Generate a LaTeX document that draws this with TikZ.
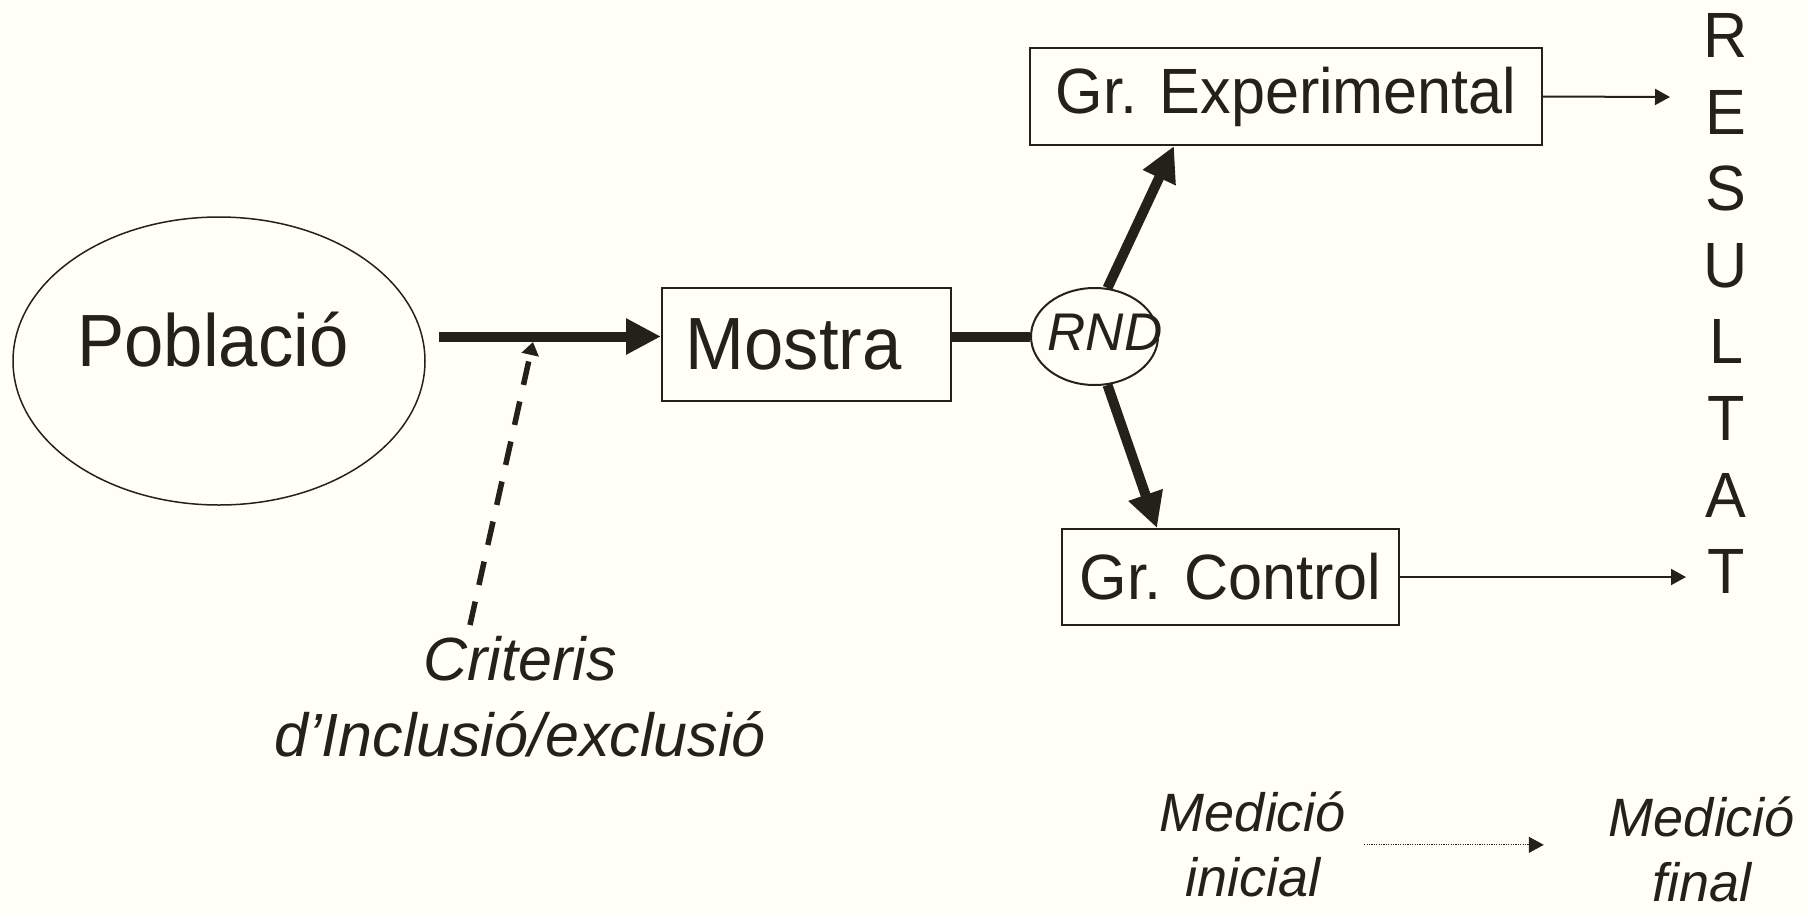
\documentclass[tikz,border=0pt]{standalone}
\usepackage{fontspec}
\setmainfont{Liberation Sans}[UprightFeatures={FakeStretch=0.955}]
\usetikzlibrary{arrows.meta,shapes.geometric}

\definecolor{tinta}{RGB}{34,34,26}
\definecolor{paper}{RGB}{255,255,247}

\begin{document}
\begin{tikzpicture}[x=1pt,y=-1pt,color=tinta]
        \tikzstyle{caixa}=[draw,rectangle,line width=2pt,inner sep=0pt]
        \tikzstyle{oval}=[draw,ellipse,inner sep=0pt]
        \tikzstyle{gruixut}=[line width=10pt,-{Triangle[length=35pt,width=34pt]}]
        \tikzstyle{prim}=[line width=2pt,-{Triangle[length=15pt,width=16pt]}]
        \tikzstyle{discont}=[line width=5.5pt,dash pattern=on 24pt off 17pt,-{Triangle[length=13pt,width=17pt]}]
        \tikzstyle{puntejat}=[line width=1.2pt,dash pattern=on 1.2pt off 1.2pt,-{Triangle[length=15pt,width=16pt]}]
        \tikzstyle{lletra}=[font=\fontsize{64}{64}\selectfont,inner sep=0pt]
        \tikzstyle{mesura}=[font=\itshape\fontsize{54}{65}\selectfont,align=center,inner sep=0pt]

        \fill[paper] (0,0) rectangle (1808,914);
        \useasboundingbox (0,0) rectangle (1808,914);

        \node[oval,line width=1.5pt,minimum width=412pt,minimum height=288pt] (poblacio) at (219,361) {};
        \node[font=\fontsize{74}{74}\selectfont,inner sep=0pt] (poblaciotxt) at (213,340) {Població};

        \node[caixa,minimum width=289pt,minimum height=113pt,font=\fontsize{74}{74}\selectfont] (mostra) at (806.5,344.5) {Mostra\kern26pt\null};

        \node[oval,line width=2pt,minimum width=127pt,minimum height=97pt] (rnd) at (1094.5,336.5) {};
        \node[font=\itshape\fontsize{53}{53}\selectfont,inner sep=0pt] (rndtxt) at (1105,332.5) {RND};

        \node[caixa,minimum width=512pt,minimum height=97pt,font=\fontsize{64}{64}\selectfont] (gexp) at (1286,96.5) {Gr. Experimental};
        \node[caixa,minimum width=337pt,minimum height=96pt,font=\fontsize{64}{64}\selectfont] (gcon) at (1230.5,577) {Gr. Control};

        % RESULTAT, una lletra per linia
        \foreach \lletra [count=\i] in {R,E,S,U,L,T,A,T}
            \node[lletra] (r\i) at (1726,{35.5+76.6*(\i-1)}) {\lletra};

        \node[font=\itshape\fontsize{61}{76}\selectfont,align=center,inner sep=0pt,anchor=north] (criteris) at (520,636) {Criteris\\d’Inclusió/exclusió};

        \node[mesura,anchor=north] (inicial) at (1253,792) {Medició\\inicial};
        \node[mesura,anchor=north] (final) at (1702,797) {Medició\\final};

        \coordinate (filtre) at (533,342);
        \coordinate (fiexp) at (1670,97);
        \coordinate (ficon) at (1686,577);

        \draw[gruixut] ([xshift=13pt]poblacio.east |- rnd.west) -- (mostra.west |- rnd.west);
        \draw[line width=10pt] (mostra.east |- rnd.west) -- (rnd.west);
        \draw[gruixut] (rnd.75) -- ([xshift=145pt]gexp.south west);
        \draw[gruixut] (rnd.-75) -- ([xshift=96pt]gcon.north west);

        \draw[discont] ([xshift=-50pt,yshift=11pt]criteris.north) -- (filtre);

        \draw[prim] (gexp.east) -- (fiexp);
        \draw[prim] (gcon.east) -- (ficon);

        \draw[puntejat] ([xshift=18pt]inicial.east) -- ([xshift=-65pt]final.west |- inicial.east);
    \end{tikzpicture}
\end{document}
